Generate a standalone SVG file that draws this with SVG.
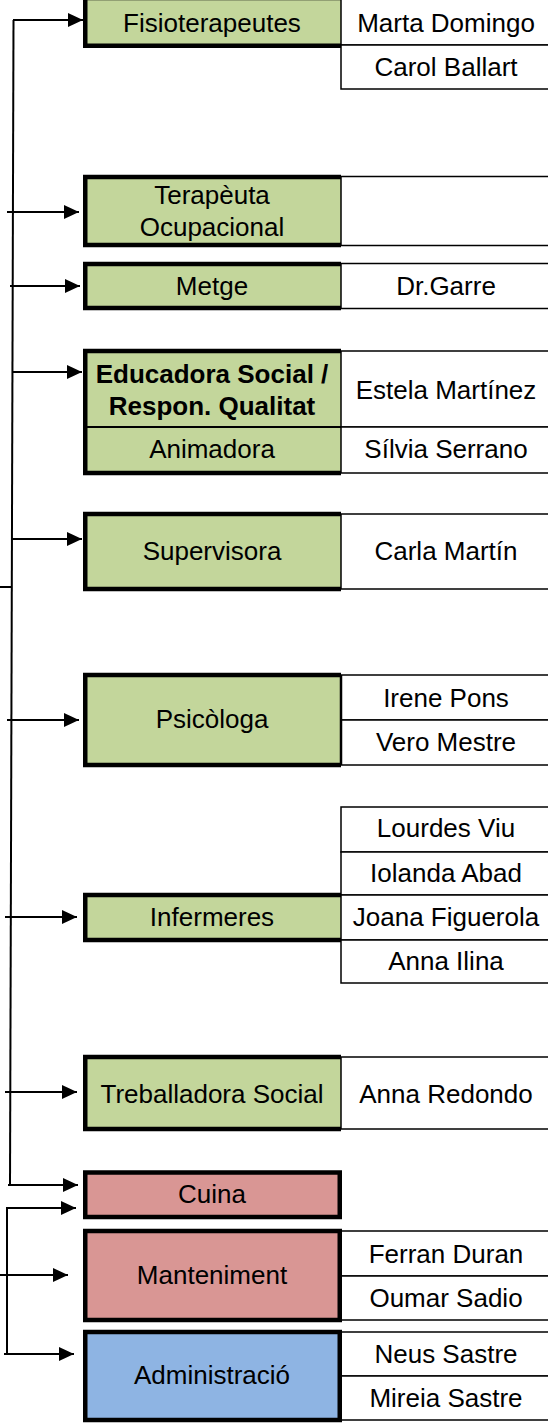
<svg xmlns="http://www.w3.org/2000/svg" width="548" height="1424" viewBox="0 0 548 1424">
<style>
.bg{fill:#ffffff}
.thick{fill:none;stroke:#000;stroke-width:4.5;stroke-linejoin:miter}
.tk{stroke:#000;stroke-width:4.5}
.g{fill:#c3d69b}
.p{fill:#d99694}
.b{fill:#8eb4e3}
.cell{fill:#fff;stroke:#000;stroke-width:1.5}
.conn{fill:none;stroke:#000;stroke-width:2}
text{font-family:"Liberation Sans",Arial,sans-serif;font-size:26px;fill:#000;text-anchor:middle}
.bold{font-weight:bold}
</style>
<defs>
<marker id="ah" markerUnits="userSpaceOnUse" markerWidth="15" markerHeight="15" viewBox="0 0 15 15" refX="15" refY="7.5" orient="auto">
<path d="M0,0.5 L15,7.5 L0,14.5 Z" fill="#000"/>
</marker>
</defs>
<rect class="bg" x="0" y="0" width="548" height="1424"/>

<g id="connectors">
<line class="conn" x1="13.5" y1="20" x2="10" y2="1186"/>
<line class="conn" x1="0" y1="587" x2="12" y2="587"/>
<line class="conn" x1="13" y1="20" x2="83" y2="20" marker-end="url(#ah)"/>
<line class="conn" x1="7" y1="212" x2="79" y2="212" marker-end="url(#ah)"/>
<line class="conn" x1="10" y1="286" x2="80" y2="286" marker-end="url(#ah)"/>
<line class="conn" x1="13" y1="372" x2="82" y2="372" marker-end="url(#ah)"/>
<line class="conn" x1="12" y1="539" x2="82" y2="539" marker-end="url(#ah)"/>
<line class="conn" x1="7" y1="720" x2="79" y2="720" marker-end="url(#ah)"/>
<line class="conn" x1="5" y1="917" x2="77" y2="917" marker-end="url(#ah)"/>
<line class="conn" x1="5" y1="1092" x2="77" y2="1092" marker-end="url(#ah)"/>
<line class="conn" x1="8" y1="1185" x2="78" y2="1185" marker-end="url(#ah)"/>
<line class="conn" x1="7" y1="1207" x2="7" y2="1355"/>
<line class="conn" x1="6" y1="1208" x2="76" y2="1208" marker-end="url(#ah)"/>
<line class="conn" x1="0" y1="1275" x2="68" y2="1275" marker-end="url(#ah)"/>
<line class="conn" x1="4" y1="1354" x2="74" y2="1354" marker-end="url(#ah)"/>
</g>

<g id="fisioterapeutes">
<rect class="g" x="85" y="-2" width="256" height="48"/>
<rect class="cell" x="341" y="-2" width="220" height="47"/>
<rect class="cell" x="341" y="45" width="220" height="44"/>
<path class="thick" d="M341,-2 H85.25 V45.75 H341"/>
<text x="212" y="32">Fisioterapeutes</text>
<text x="446" y="32">Marta Domingo</text>
<text x="446" y="76">Carol Ballart</text>
</g>

<g id="terapeuta">
<rect class="g" x="85" y="177" width="256" height="68"/>
<rect class="cell" x="341" y="176.5" width="220" height="69"/>
<path class="thick" d="M341,177 H85.25 V245 H341"/>
<text x="212" y="204">Terapèuta</text>
<text x="212" y="236">Ocupacional</text>
</g>

<g id="metge">
<rect class="g" x="85" y="264" width="256" height="44"/>
<rect class="cell" x="341" y="263.5" width="220" height="45"/>
<path class="thick" d="M341,264 H85.25 V308 H341"/>
<text x="212" y="295">Metge</text>
<text x="446" y="295">Dr.Garre</text>
</g>

<g id="educadora">
<rect class="g" x="85" y="351" width="256" height="122"/>
<rect class="cell" x="341" y="351" width="220" height="76"/>
<rect class="cell" x="341" y="427" width="220" height="46"/>
<line x1="85" y1="427" x2="341" y2="427" stroke="#000" stroke-width="2"/>
<path class="thick" d="M341,351 H85.25 V473 H341"/>
<text class="bold" x="212" y="383">Educadora Social /</text>
<text class="bold" x="212" y="415">Respon. Qualitat</text>
<text x="446" y="399">Estela Martínez</text>
<text x="212" y="458">Animadora</text>
<text x="446" y="458">Sílvia Serrano</text>
</g>

<g id="supervisora">
<rect class="g" x="85" y="514" width="256" height="75"/>
<rect class="cell" x="341" y="514" width="220" height="75"/>
<path class="thick" d="M341,514 H85.25 V589 H341"/>
<text x="212" y="560">Supervisora</text>
<text x="446" y="560">Carla Martín</text>
</g>

<g id="psicologa">
<rect class="g" x="85" y="675" width="256" height="90"/>
<rect class="cell" x="341" y="675" width="220" height="45"/>
<rect class="cell" x="341" y="720" width="220" height="45"/>
<path class="thick" d="M341,675 H85.25 V765 H341"/>
<line x1="341" y1="675" x2="341" y2="765" stroke="#000" stroke-width="2.5"/>
<text x="212" y="728">Psicòloga</text>
<text x="446" y="707">Irene Pons</text>
<text x="446" y="751">Vero Mestre</text>
</g>

<g id="infermeres">
<rect class="g" x="85" y="895" width="256" height="45"/>
<rect class="cell" x="341" y="807" width="220" height="45"/>
<rect class="cell" x="341" y="852" width="220" height="43"/>
<rect class="cell" x="341" y="895" width="220" height="45"/>
<rect class="cell" x="341" y="940" width="220" height="43"/>
<path class="thick" d="M341,895 H85.25 V940 H341"/>
<text x="212" y="926">Infermeres</text>
<text x="446" y="837">Lourdes Viu</text>
<text x="446" y="882">Iolanda Abad</text>
<text x="446" y="926">Joana Figuerola</text>
<text x="446" y="970">Anna Ilina</text>
</g>

<g id="treballadora">
<rect class="g" x="85" y="1057" width="256" height="72"/>
<rect class="cell" x="341" y="1057" width="220" height="72"/>
<path class="thick" d="M341,1057 H85.25 V1129 H341"/>
<text x="212" y="1103">Treballadora Social</text>
<text x="446" y="1103">Anna Redondo</text>
</g>

<g id="cuina">
<rect class="tk p" x="85.25" y="1172.5" width="254.5" height="44.5"/>
<text x="212" y="1203">Cuina</text>
</g>

<g id="manteniment">
<rect class="cell" x="341" y="1231" width="220" height="45"/>
<rect class="cell" x="341" y="1276" width="220" height="44"/>
<rect class="tk p" x="85.25" y="1231" width="254.5" height="89"/>
<text x="212" y="1284">Manteniment</text>
<text x="446" y="1263">Ferran Duran</text>
<text x="446" y="1307">Oumar Sadio</text>
</g>

<g id="administracio">
<rect class="cell" x="341" y="1332" width="220" height="44"/>
<rect class="cell" x="341" y="1376" width="220" height="44"/>
<rect class="tk b" x="85.25" y="1332" width="254.5" height="88"/>
<text x="212" y="1384">Administració</text>
<text x="446" y="1363">Neus Sastre</text>
<text x="446" y="1407">Mireia Sastre</text>
</g>
</svg>
